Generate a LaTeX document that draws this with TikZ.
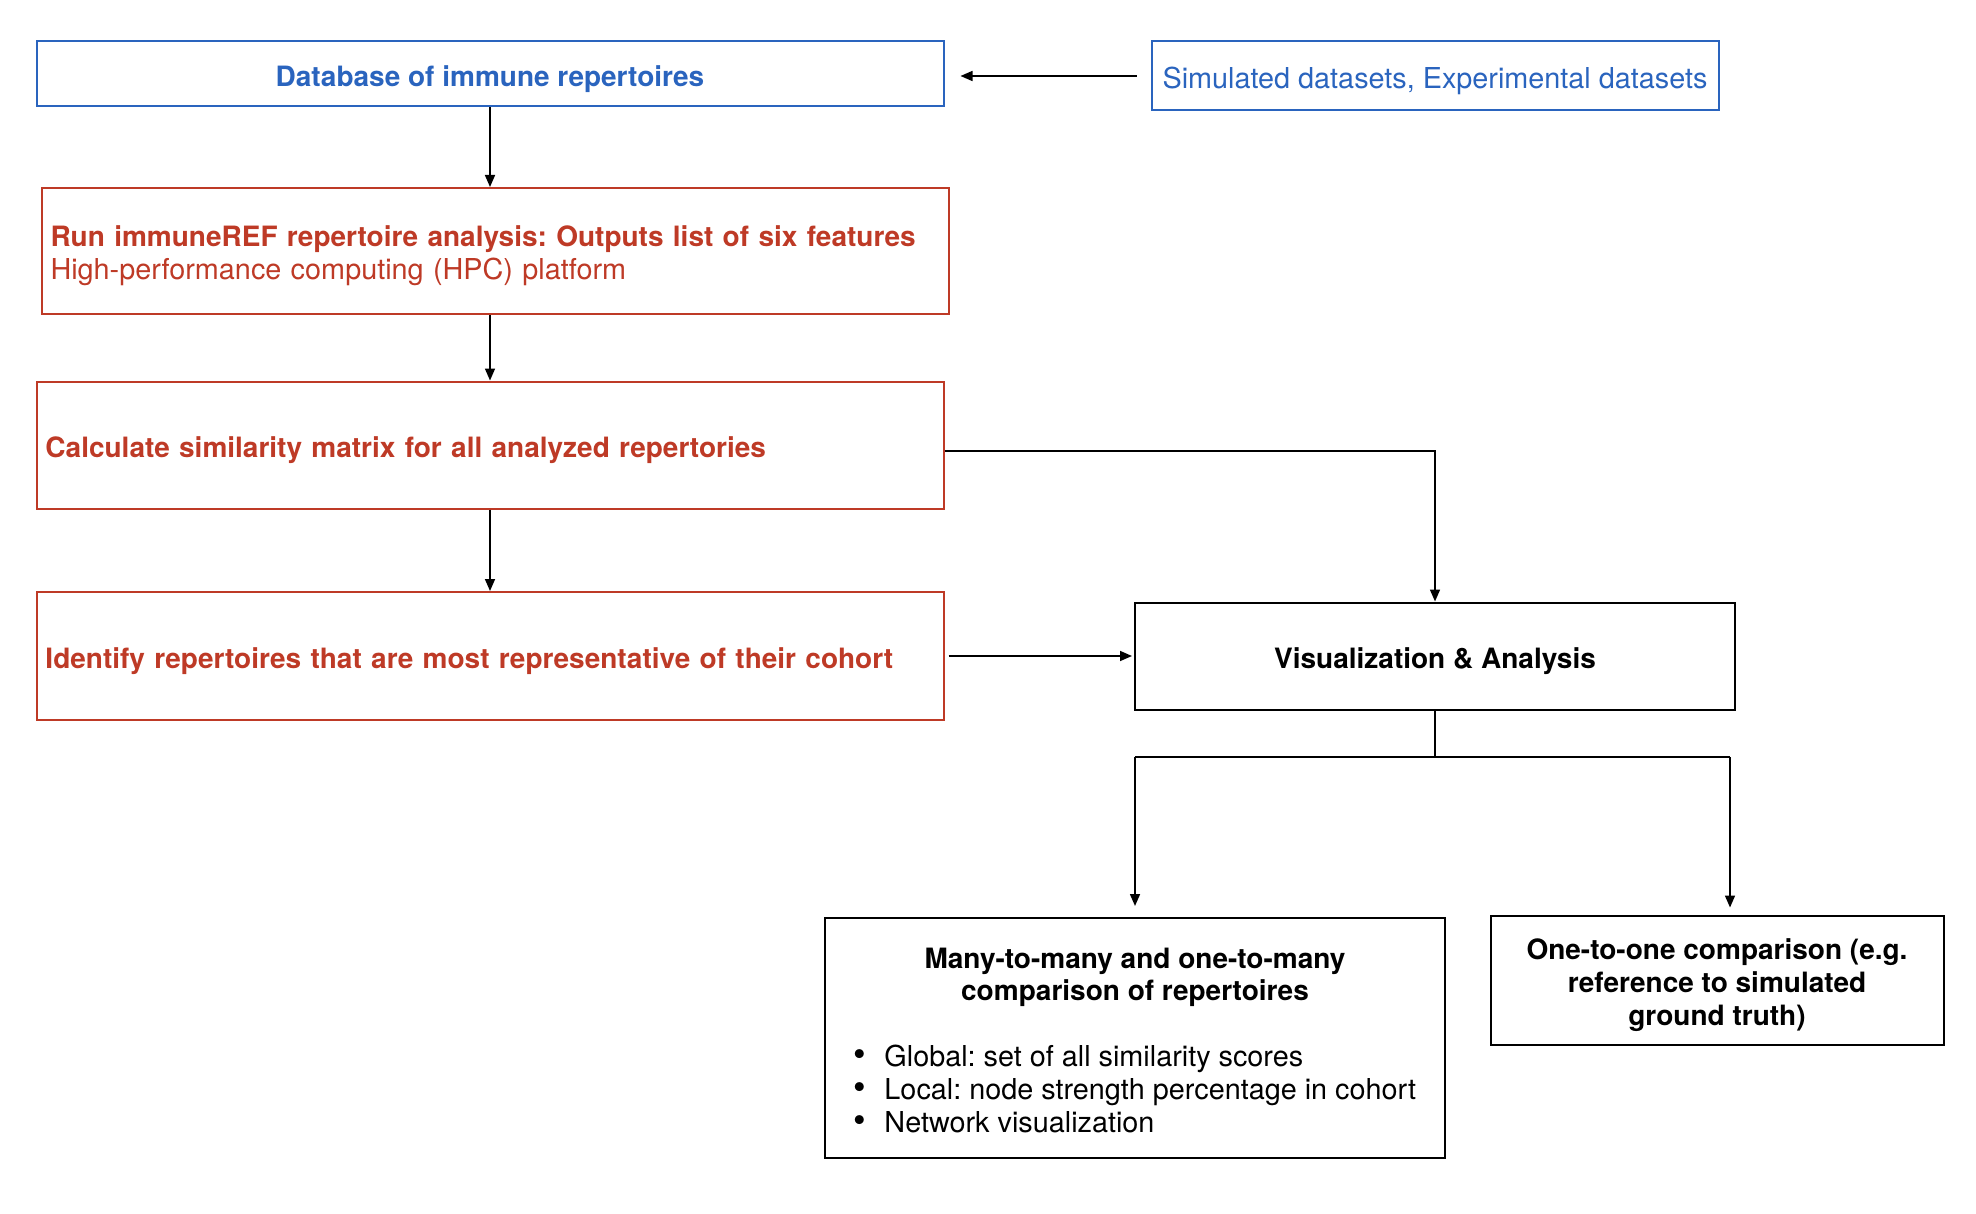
\documentclass[tikz,border=0pt]{standalone}
\usepackage{fontspec}
\usepackage{xcolor}
\setmainfont{TeX Gyre Heros}
\definecolor{immblue}{HTML}{2A64BE}
\definecolor{immred}{HTML}{BE3A26}
\usetikzlibrary{arrows.meta}
\frenchspacing

\newcommand{\boldtext}{\bfseries\fontsize{14}{16.4}\selectfont}
\newcommand{\plaintext}{\mdseries\fontsize{14.4}{16.4}\selectfont}
\newcommand{\dn}{\rule{0pt}{15.3pt}}
\newcommand{\bul}{{\fontsize{18}{16.4}\selectfont\textbullet}}

\tikzset{
  bluebox/.style={draw=immblue, text=immblue, line width=1pt, inner sep=4pt},
  redbox/.style={draw=immred, text=immred, line width=1pt, inner sep=4.5pt,
    text width=444.5pt, align=left, font=\boldtext},
  plainbox/.style={draw=black, line width=1pt, inner sep=4pt, align=center},
  arr/.style={-{Triangle[length=6pt,width=5pt]}, line width=0.8pt},
}

\begin{document}
\begin{tikzpicture}[x=0.5pt,y=-0.5pt]
		\tikzstyle{every node}+=[font=\plaintext]
		\useasboundingbox (0,0) rectangle (1976,1214);
		% left column
		\node [bluebox, minimum width=453.5pt, minimum height=32.5pt, font=\boldtext] (db) at (490,74) {\dn Database of immune repertoires};
		\node [bluebox, minimum width=283.5pt, minimum height=34.5pt] (sim) at (1435,76) {\dn Simulated datasets, Experimental datasets};
		\node [redbox, minimum height=63pt] (run) at (495,251) {\dn Run immuneREF repertoire analysis: Outputs list of six features\\{\plaintext High-performance computing (HPC) platform}};
		\node [redbox, minimum height=63.5pt] (calc) at (490,445) {\dn Calculate similarity matrix for all analyzed repertories};
		\node [redbox, minimum height=64pt] (ident) at (490,656) {\dn Identify repertoires that are most representative of their cohort};
		% right side
		\node [plainbox, minimum width=300pt, minimum height=53.5pt, font=\boldtext] (vis) at (1435,656) {\dn Visualization \& Analysis};
		\node [plainbox, minimum width=310pt, minimum height=120pt] (many) at (1135,1038) {%
			\begin{tabular}{@{}c@{}}
			\rule{0pt}{17pt}{\boldtext Many-to-many and one-to-many}\\
			{\boldtext comparison of repertoires}\\[16.4pt]
			\begin{tabular}{@{}l@{\hspace{9pt}}l@{}}
			\bul & Global: set of all similarity scores\\
			\bul & Local: node strength percentage in cohort\\
			\bul & Network visualization
			\end{tabular}
			\end{tabular}};
		\node [plainbox, minimum width=226.5pt, minimum height=64.5pt, font=\boldtext] (one) at (1717,980) {\dn One-to-one comparison (e.g.\\reference to simulated\\ground truth)};
		\coordinate (split) at (1435,757);
		\coordinate (lsplit) at (1135,757);
		\coordinate (rsplit) at (1730,757);
		% connectors
		\draw [arr, shorten <=7pt, shorten >=8pt] (sim.west) -- (sim.west -| db.east);
		\draw [arr] (db.south) -- (db.south |- run.north);
		\draw [arr] (db.south |- run.south) -- (db.south |- calc.north);
		\draw [arr] (calc.south) -- (ident.north);
		\draw [arr] ([yshift=-3pt]calc.east) -| (vis.north);
		\draw [arr, shorten <=2pt, shorten >=1pt] (ident.east) -- (vis.west);
		\draw [line width=0.8pt] (vis.south) -- (split);
		\draw [line width=0.8pt] (lsplit) -- (rsplit);
		\draw [arr, shorten >=5.5pt] (lsplit) -- (lsplit |- many.north);
		\draw [arr, shorten >=3.5pt] (rsplit) -- (rsplit |- one.north);
\end{tikzpicture}
\end{document}
